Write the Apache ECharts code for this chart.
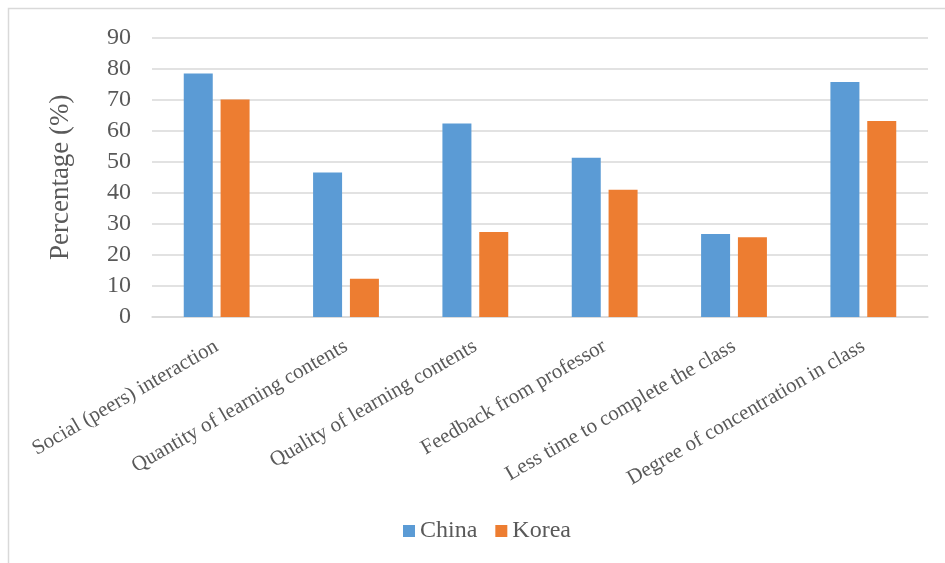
<!DOCTYPE html>
<html>
<head>
<meta charset="utf-8">
<script src="https://cdn.jsdelivr.net/npm/echarts@6/dist/echarts.min.js"></script>
<style>html,body{margin:0;padding:0;background:#fff;}#c{width:945px;height:563px;}</style>
</head>
<body>
<div id="c"></div>
<script>
var categories = ["Social (peers) interaction", "Quantity of learning contents", "Quality of learning contents", "Feedback from professor", "Less time to complete the class", "Degree of concentration in class"];
var china = [78.4, 46.5, 62.3, 51.3, 26.7, 75.7];
var korea = [70.0, 12.3, 27.4, 41.0, 25.7, 63.1];
var yTicks = [0, 10, 20, 30, 40, 50, 60, 70, 80, 90];

var font = '"Liberation Serif", "Times New Roman", serif';
var chart = echarts.init(document.getElementById('c'), null, {renderer: 'canvas'});
chart.setOption({
  animation: false,
  backgroundColor: '#fff',
  textStyle: {fontFamily: font},
  graphic: [{
    type: 'rect', silent: true,
    shape: {x: 8.5, y: 8.5, width: 1000, height: 1000},
    style: {fill: 'none', stroke: '#d9d9d9', lineWidth: 1.5}
  }],
  grid: {left: 152, right: 17, top: 37.5, bottom: 246, containLabel: false},
  legend: {
    data: ['China', 'Korea'], left: 398, top: 514,
    icon: 'rect', itemWidth: 12, itemHeight: 12, itemGap: 18,
    textStyle: {fontFamily: font, fontSize: 24, color: '#595959'}
  },
  xAxis: {
    type: 'category', data: categories,
    axisLine: {lineStyle: {color: '#d9d9d9', width: 1.5}},
    axisTick: {show: false},
    axisLabel: {rotate: 30, interval: 0, margin: 28, fontFamily: font, fontSize: 21, color: '#595959'}
  },
  yAxis: {
    type: 'value', min: yTicks[0], max: yTicks[yTicks.length - 1], interval: 10,
    name: 'Percentage (%)', nameLocation: 'middle', nameGap: 78,
    nameTextStyle: {fontFamily: font, fontSize: 27, color: '#595959'},
    axisLine: {show: false}, axisTick: {show: false},
    axisLabel: {margin: 21, fontFamily: font, fontSize: 24, color: '#595959'},
    splitLine: {lineStyle: {color: '#d9d9d9', width: 1.5}}
  },
  series: [
    {name: 'China', type: 'bar', data: china, barWidth: 29, barGap: '27%', itemStyle: {color: '#5B9BD5'}},
    {name: 'Korea', type: 'bar', data: korea, barWidth: 29, barGap: '27%', itemStyle: {color: '#ED7D31'}}
  ]
});
</script>
</body>
</html>
